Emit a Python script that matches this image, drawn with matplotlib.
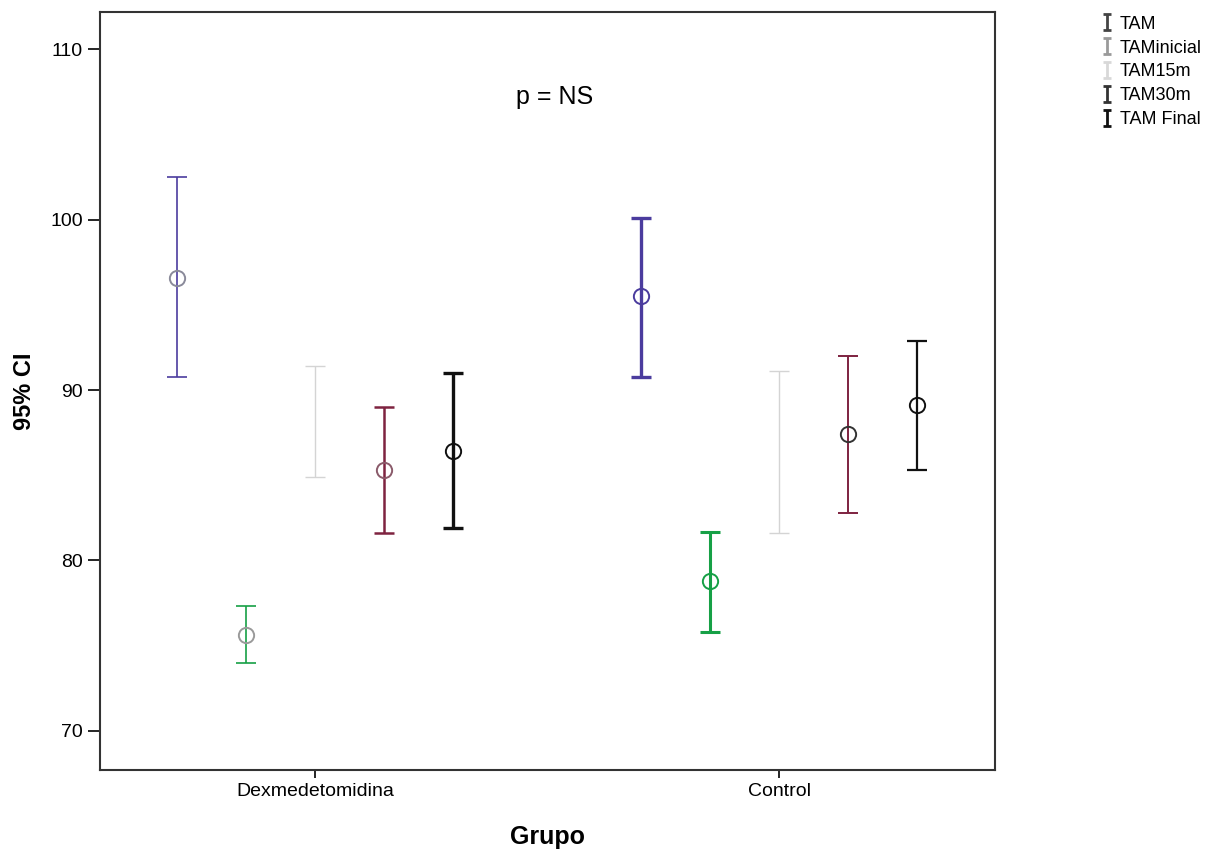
import numpy as np
import matplotlib.pyplot as plt
from matplotlib.lines import Line2D
from matplotlib.path import Path

plt.rcParams['font.family'] = ['Liberation Sans', 'DejaVu Sans']

grupos = ["Dexmedetomidina", "Control"]
series = ["TAM", "TAMinicial", "TAM15m", "TAM30m", "TAM Final"]

# mean, lower, upper of 95% CI per series, [Dexmedetomidina, Control]
media = {
    "TAM": [96.6, 95.5],
    "TAMinicial": [75.6, 78.8],
    "TAM15m": [88.2, 86.4],
    "TAM30m": [85.3, 87.4],
    "TAM Final": [86.4, 89.1],
}
inferior = {
    "TAM": [90.8, 90.8],
    "TAMinicial": [74.0, 75.8],
    "TAM15m": [84.9, 81.6],
    "TAM30m": [81.6, 82.8],
    "TAM Final": [81.9, 85.3],
}
superior = {
    "TAM": [102.5, 100.1],
    "TAMinicial": [77.3, 81.7],
    "TAM15m": [91.4, 91.1],
    "TAM30m": [89.0, 92.0],
    "TAM Final": [91.0, 92.9],
}

colores = {
    "TAM": "#4b3c9e",
    "TAMinicial": "#16a046",
    "TAM15m": "#d4d4d4",
    "TAM30m": "#7e2340",
    "TAM Final": "#111111",
}
# line widths differ per group in the original
grosor = {
    "TAM": [1.2, 2.4],
    "TAMinicial": [1.2, 2.2],
    "TAM15m": [1.0, 1.0],
    "TAM30m": [1.8, 1.4],
    "TAM Final": [2.4, 1.6],
}
colores_marcador = {
    "TAM": ["#8a8a9a", "#4b3c9e"],
    "TAMinicial": ["#9a9a9a", "#16a046"],
    "TAM15m": ["#e0e0e0", "#d4d4d4"],
    "TAM30m": ["#8a5a6a", "#333333"],
    "TAM Final": ["#111111", "#111111"],
}
legend_colors = ["#444444", "#9a9a9a", "#d8d8d8", "#333333", "#111111"]

fig = plt.figure(figsize=(12.26, 8.55), dpi=100)
ax = fig.add_axes([0.0816, 0.0994, 0.73, 0.8866])

x = np.arange(1, len(grupos) + 1)
paso = 0.149
for i, s in enumerate(series):
    off = (i - 2) * paso
    for g in range(len(grupos)):
        m = media[s][g]
        err = [[m - inferior[s][g]], [superior[s][g] - m]]
        ax.errorbar(x[g] + off, m, yerr=err, fmt='none', ecolor=colores[s],
                    elinewidth=grosor[s][g], capsize=7, capthick=grosor[s][g])
        if s != "TAM15m":
            ax.plot(x[g] + off, m, 'o', mfc='none', mec=colores_marcador[s][g],
                    ms=11, mew=1.4)

ax.set_xlim(0.5366, 2.4655)
ax.set_ylim(67.7, 112.2)
ax.set_xticks(x)
ax.set_xticklabels(grupos, fontsize=14)
ax.set_yticks([70, 80, 90, 100, 110])
ax.tick_params(axis='y', labelsize=14, length=9, width=1.2, direction='out')
ax.tick_params(axis='x', length=6, width=1.2, direction='out')
for sp in ax.spines.values():
    sp.set_linewidth(1.5)
    sp.set_color('#333333')

ax.set_ylabel("95% CI", fontsize=17, fontweight='bold', labelpad=10)
ax.set_xlabel("Grupo", fontsize=18, fontweight='bold', labelpad=18)
ax.text(1.517, 107.2, "p = NS", fontsize=18, ha='center', va='center')

# I-beam glyph for the legend, like the SPSS error bar key
ibeam = Path([(-0.5, 1), (0.5, 1), (0, 1), (0, -1), (-0.5, -1), (0.5, -1)],
             [Path.MOVETO, Path.LINETO, Path.MOVETO, Path.LINETO,
              Path.MOVETO, Path.LINETO])
handles = [Line2D([0], [0], color=c, lw=0, marker=ibeam, ms=11,
                  mec=c, mfc='none', mew=2) for c in legend_colors]
fig.legend(handles, series, loc='upper left', bbox_to_anchor=(0.893, 0.99),
           frameon=False, fontsize=13, handlelength=0.5, handletextpad=0.5,
           labelspacing=0.38, borderaxespad=0)

fig.savefig("out.png", dpi=100)
